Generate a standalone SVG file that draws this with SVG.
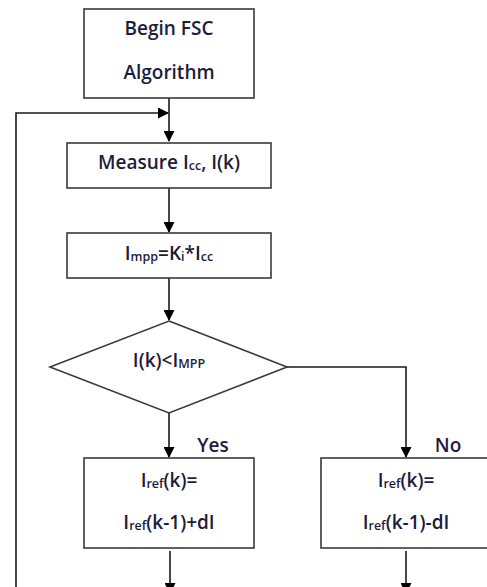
<svg xmlns="http://www.w3.org/2000/svg" width="487" height="587" viewBox="0 0 487 587">
<defs>
<marker id="ah" markerWidth="11" markerHeight="11" refX="10" refY="5.5" orient="auto" markerUnits="userSpaceOnUse">
<path d="M0,0 L11,5.5 L0,11 Z" fill="#000"/>
</marker>
<style>
.box{fill:#fff;stroke:#3a3a3a;stroke-width:1.6}
.ln{fill:none;stroke:#1a1a1a;stroke-width:1.6}
.t{font-family:"Open Sans","Liberation Sans",sans-serif;font-weight:600;font-size:19px;fill:#1c1c3c;text-anchor:middle}
.s{font-size:12.5px}
</style>
</defs>
<rect width="487" height="587" fill="#fff"/>
<g id="connectors">
<path class="ln" d="M169,98 V141" marker-end="url(#ah)"/>
<path class="ln" d="M16,587 V113 H168" marker-end="url(#ah)"/>
<path class="ln" d="M169,188 V232" marker-end="url(#ah)"/>
<path class="ln" d="M169,278 V320" marker-end="url(#ah)"/>
<path class="ln" d="M169,413 V457" marker-end="url(#ah)"/>
<path class="ln" d="M287,367 H406 V457" marker-end="url(#ah)"/>
<path class="ln" d="M170,551 V593" marker-end="url(#ah)"/>
<path class="ln" d="M406,551 V593" marker-end="url(#ah)"/>
<text class="t" x="213" y="452">Yes</text>
<text class="t" x="448" y="452">No</text>
</g>
<g id="begin">
<rect class="box" x="84" y="9" width="170" height="89"/>
<text class="t" x="169" y="35">Begin FSC</text>
<text class="t" x="169" y="79">Algorithm</text>
</g>
<g id="measure">
<rect class="box" x="67" y="143" width="204" height="45"/>
<text class="t" x="169" y="169">Measure I<tspan class="s" dy="1">cc</tspan><tspan dy="-1">, I(k)</tspan></text>
</g>
<g id="impp">
<rect class="box" x="67" y="233" width="204" height="45"/>
<text class="t" x="169" y="260">I<tspan class="s" dy="1">mpp</tspan><tspan dy="-1">=K</tspan><tspan class="s" dy="1">i</tspan><tspan dy="-1">*I</tspan><tspan class="s" dy="1">cc</tspan></text>
</g>
<g id="decision">
<polygon class="box" points="169,321 287,367 169,413 50,367"/>
<text class="t" x="169" y="367">I(k)&lt;I<tspan class="s" dy="1">MPP</tspan></text>
</g>
<g id="yesbox">
<rect class="box" x="84" y="458" width="170" height="90"/>
<text class="t" x="169" y="487">I<tspan class="s" dy="1">ref</tspan><tspan dy="-1">(k)=</tspan></text>
<text class="t" x="169" y="529">I<tspan class="s" dy="1">ref</tspan><tspan dy="-1">(k-1)+dI</tspan></text>
</g>
<g id="nobox">
<rect class="box" x="321" y="458" width="172" height="90"/>
<text class="t" x="406" y="487">I<tspan class="s" dy="1">ref</tspan><tspan dy="-1">(k)=</tspan></text>
<text class="t" x="406" y="529">I<tspan class="s" dy="1">ref</tspan><tspan dy="-1">(k-1)-dI</tspan></text>
</g>
</svg>
